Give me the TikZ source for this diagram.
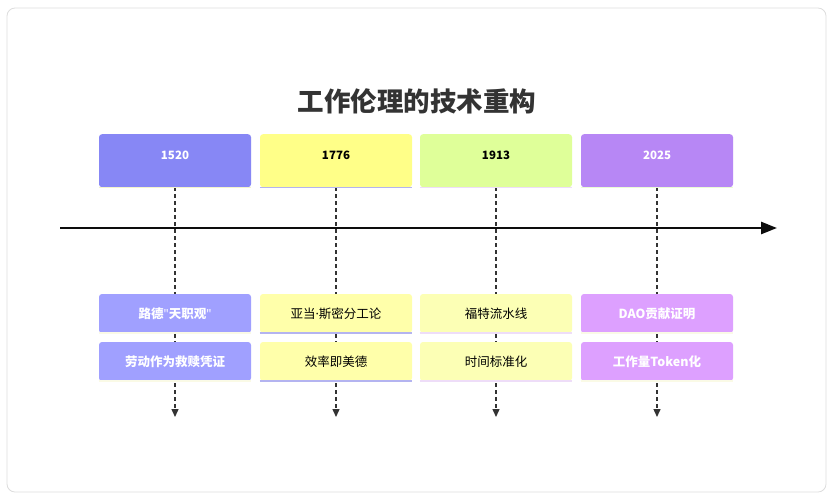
\documentclass[tikz,border=0pt]{standalone}
\usepackage{fontspec}
\setmainfont{Noto Sans CJK SC}
\newfontfamily\latinfont{Noto Sans}
\usetikzlibrary{arrows.meta}
\definecolor{pA}{HTML}{8787F5}
\definecolor{pB}{HTML}{FFFF88}
\definecolor{pC}{HTML}{DFFF99}
\definecolor{pD}{HTML}{B787F5}
\definecolor{eA}{HTML}{A0A0FF}
\definecolor{eB}{HTML}{FFFFAA}
\definecolor{eC}{HTML}{FCFFB5}
\definecolor{eD}{HTML}{DDA0FF}
\definecolor{lA}{HTML}{F3F3CC}
\definecolor{lB}{HTML}{B4B4F0}
\definecolor{lC}{HTML}{EEDDF8}
\definecolor{lD}{HTML}{EAFBD5}
\definecolor{lE}{HTML}{FAFAE6}
\definecolor{frame}{HTML}{DDDDDD}
\definecolor{ttl}{HTML}{333333}
\tikzset{
  x=1pt,y=-1pt,
  period/.style={minimum width=152pt,minimum height=53pt,inner sep=0pt,rounded corners=3pt,anchor=north,text height=8pt,text depth=0pt,font=\fontsize{11.5}{13}\selectfont\bfseries},
  evt/.style={minimum width=152pt,minimum height=39pt,inner sep=0pt,rounded corners=3pt,font=\fontsize{12.5}{14}\selectfont},
  evtb/.style={evt,font=\fontsize{12.5}{14}\selectfont\bfseries,text=white},
  vline/.style={dash pattern=on 3.5pt off 3.5pt,line width=1.4pt,draw=ttl,-{Triangle[length=8pt,width=7pt]}},
  underline/.style={line width=1.6pt},
}
\begin{document}
\begin{tikzpicture}
\useasboundingbox (0,0) rectangle (835,499);
\draw[frame,fill=white,rounded corners=8pt,line width=0.8pt] (7,8) rectangle (826,492);
\node[font=\fontsize{26.5}{30}\selectfont\bfseries,text=ttl] (title) at (417,101) {工作伦理的技术重构};
% vertical dashed lines
\foreach \x/\n in {175/a,336/b,496/c,657/d}{
  \coordinate (top\n) at (\x,187);
  \coordinate (bot\n) at (\x,417);
  \draw[vline] (top\n) -- (bot\n);
}
% axis
\coordinate (axs) at (60,228);
\coordinate (axe) at (777,228);
\draw[line width=2.6pt,black!95,-{Triangle[length=16pt,width=12pt]}] (axs) -- (axe);
% periods
\node[period,fill=pA,text=white] (p1) at (175,134) {\raisebox{5pt}{1520}};
\node[period,fill=pB,text=black] (p2) at (336,134) {\raisebox{5pt}{1776}};
\node[period,fill=pC,text=black] (p3) at (496,134) {\raisebox{5pt}{1913}};
\node[period,fill=pD,text=white] (p4) at (657,134) {\raisebox{5pt}{2025}};
\draw[lA,underline] (p1.south west) -- (p1.south east);
\draw[lB,underline] (p2.south west) -- (p2.south east);
\draw[lC,underline] (p3.south west) -- (p3.south east);
\draw[lD,underline] (p4.south west) -- (p4.south east);
% events
\node[evtb,fill=eA] (e11) at (175,313.5) {路德{\latinfont\bfseries "}天职观{\latinfont\bfseries "}};
\node[evtb,fill=eA] (e12) at (175,361.5) {劳动作为救赎凭证};
\node[evt,fill=eB] (e21) at (336,313.5) {亚当{\latinfont ·}斯密分工论};
\node[evt,fill=eB] (e22) at (336,361.5) {效率即美德};
\node[evt,fill=eC] (e31) at (496,313.5) {福特流水线};
\node[evt,fill=eC] (e32) at (496,361.5) {时间标准化};
\node[evtb,fill=eD] (e41) at (657,313.5) {DAO贡献证明};
\node[evtb,fill=eD] (e42) at (657,361.5) {工作量Token化};
\draw[lE,underline] (e11.south west) -- (e11.south east);
\draw[lE,underline] (e12.south west) -- (e12.south east);
\draw[lB,underline] (e21.south west) -- (e21.south east);
\draw[lB,underline] (e22.south west) -- (e22.south east);
\draw[lC,underline] (e31.south west) -- (e31.south east);
\draw[lC,underline] (e32.south west) -- (e32.south east);
\draw[lE,underline] (e41.south west) -- (e41.south east);
\draw[lE,underline] (e42.south west) -- (e42.south east);
\end{tikzpicture}
\end{document}
